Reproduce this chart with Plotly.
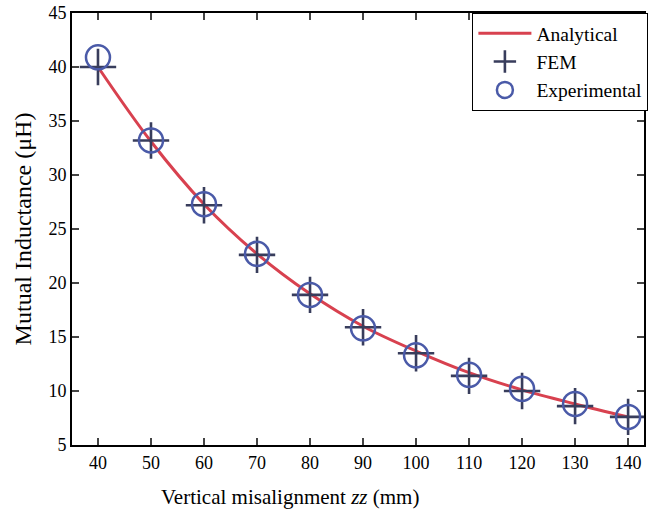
import plotly.graph_objects as go

x_vals = [40, 50, 60, 70, 80, 90, 100, 110, 120, 130, 140]
analytical = [40.0, 33.1, 27.3, 22.7, 19.0, 16.0, 13.7, 11.7, 10.1, 8.8, 7.6]
fem = [40.0, 33.2, 27.2, 22.6, 18.9, 15.9, 13.5, 11.4, 10.0, 8.6, 7.6]
experimental = [40.9, 33.2, 27.3, 22.7, 18.9, 15.8, 13.3, 11.5, 10.2, 8.8, 7.6]

x_ticks = [40, 50, 60, 70, 80, 90, 100, 110, 120, 130, 140]
y_ticks = [5, 10, 15, 20, 25, 30, 35, 40, 45]

fig = go.Figure()
fig.add_trace(go.Scatter(x=x_vals, y=analytical, mode="lines", name="Analytical",
                         line=dict(color="#d8414f", width=3, shape="spline")))
fig.add_trace(go.Scatter(x=x_vals, y=fem, mode="markers", name="FEM",
                         marker=dict(symbol="cross-thin-open", size=26, color="#383d5c",
                                     line=dict(color="#383d5c", width=2.6))))
fig.add_trace(go.Scatter(x=x_vals, y=experimental, mode="markers", name="Experimental",
                         marker=dict(symbol="circle-open", size=24, color="#4a5aa8",
                                     line=dict(color="#4a5aa8", width=2.5))))

font_family = "Liberation Serif, Times New Roman, serif"
fig.update_layout(
    width=654, height=521,
    margin=dict(l=72, r=10, t=13, b=76, autoexpand=False),
    paper_bgcolor="white", plot_bgcolor="white",
    font=dict(family=font_family, size=18, color="black"),
    showlegend=True,
    legend=dict(x=0.70, y=1.0, xanchor="left", yanchor="top",
                bordercolor="black", borderwidth=1, bgcolor="white",
                font=dict(family=font_family, size=19.5), itemwidth=53, tracegroupgap=0),
    xaxis=dict(range=[35.1, 143], tickvals=x_ticks, ticks="inside", ticklen=7,
               tickwidth=2, showline=True, linewidth=2, linecolor="black",
               mirror="ticks", showgrid=False, zeroline=False,
               tickfont=dict(family=font_family, size=18)),
    yaxis=dict(range=[5, 45], tickvals=y_ticks, ticks="inside", ticklen=7,
               tickwidth=2, showline=True, linewidth=2, linecolor="black",
               mirror="ticks", showgrid=False, zeroline=False,
               title=dict(text="Mutual Inductance (μH)",
                          font=dict(family=font_family, size=24), standoff=10),
               tickfont=dict(family=font_family, size=18)),
    annotations=[dict(text="Vertical misalignment <i>zz</i> (mm)", xref="paper", yref="paper",
                      x=0.381, y=-0.12, xanchor="center", yanchor="middle",
                      showarrow=False, font=dict(family=font_family, size=21))],
)

fig.write_html("out.html")
